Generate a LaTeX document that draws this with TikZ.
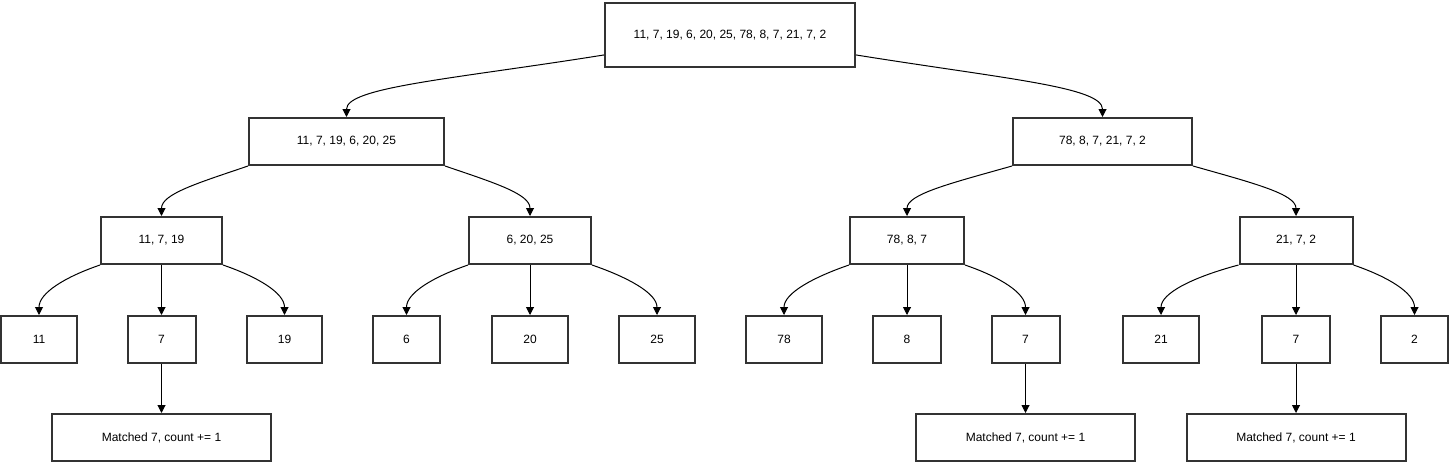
\documentclass[tikz,border=0pt]{standalone}
\usepackage{fontspec}
\setmainfont{Liberation Sans}
\usetikzlibrary{arrows.meta}
\definecolor{boxgray}{HTML}{333333}

\begin{document}
\begin{tikzpicture}[x=1pt,y=-1pt,
  box/.style={draw=boxgray,line width=2pt,fill=white,inner sep=0pt,minimum height=47pt,font=\fontsize{12}{14}\selectfont},
  arr/.style={-{Triangle[length=8pt,width=8pt]},line width=1pt,black}]
  \useasboundingbox (0,0) rectangle (1450,463);
  % splits
  \node[box,minimum width=250pt,minimum height=64pt] (root) at (730,35) {11, 7, 19, 6, 20, 25, 78, 8, 7, 21, 7, 2};
  \node[box,minimum width=195pt] (l) at (346.5,141.5) {11, 7, 19, 6, 20, 25};
  \node[box,minimum width=179pt] (r) at (1102.5,141.5) {78, 8, 7, 21, 7, 2};
  \node[box,minimum width=121pt] (ll) at (161.5,240.5) {11, 7, 19};
  \node[box,minimum width=122pt] (lr) at (530,240.5) {6, 20, 25};
  \node[box,minimum width=114pt] (rl) at (907,240.5) {78, 8, 7};
  \node[box,minimum width=113pt] (rr) at (1296,240.5) {21, 7, 2};
  % leaves
  \node[box,minimum width=76pt] (n11) at (39,339.5) {11};
  \node[box,minimum width=68pt] (n7a) at (161.5,339.5) {7};
  \node[box,minimum width=75pt] (n19) at (284.5,339.5) {19};
  \node[box,minimum width=67pt] (n6) at (406.5,339.5) {6};
  \node[box,minimum width=76pt] (n20) at (530,339.5) {20};
  \node[box,minimum width=76pt] (n25) at (657,339.5) {25};
  \node[box,minimum width=76pt] (n78) at (784,339.5) {78};
  \node[box,minimum width=68pt] (n8) at (907,339.5) {8};
  \node[box,minimum width=68pt] (n7b) at (1025.5,339.5) {7};
  \node[box,minimum width=76pt] (n21) at (1161,339.5) {21};
  \node[box,minimum width=68pt] (n7c) at (1296,339.5) {7};
  \node[box,minimum width=67pt] (n2) at (1414.5,339.5) {2};
  % matches
  \node[box,minimum width=219pt] (m1) at (161.5,437.5) {Matched 7, count += 1};
  \node[box,minimum width=219pt] (m2) at (1025.5,437.5) {Matched 7, count += 1};
  \node[box,minimum width=219pt] (m3) at (1296,437.5) {Matched 7, count += 1};

  \draw[arr] (root.189) .. controls +(-150,24) and +(0,-30) .. (l.north);
  \draw[arr] (root.-9) .. controls +(150,24) and +(0,-30) .. (r.north);
  \draw[arr] (l.south west) .. controls +(-50,17) and +(0,-22) .. (ll.north);
  \draw[arr] (l.south east) .. controls +(50,17) and +(0,-22) .. (lr.north);
  \draw[arr] (r.south west) .. controls +(-60,17) and +(0,-22) .. (rl.north);
  \draw[arr] (r.south east) .. controls +(60,17) and +(0,-22) .. (rr.north);

  \draw[arr] (ll.south west) .. controls +(-35,12) and +(0,-22) .. (n11.north);
  \draw[arr] (ll) -- (n7a);
  \draw[arr] (ll.south east) .. controls +(35,12) and +(0,-22) .. (n19.north);
  \draw[arr] (lr.south west) .. controls +(-35,12) and +(0,-22) .. (n6.north);
  \draw[arr] (lr) -- (n20);
  \draw[arr] (lr.south east) .. controls +(35,12) and +(0,-22) .. (n25.north);
  \draw[arr] (rl.south west) .. controls +(-35,12) and +(0,-22) .. (n78.north);
  \draw[arr] (rl) -- (n8);
  \draw[arr] (rl.south east) .. controls +(35,12) and +(0,-22) .. (n7b.north);
  \draw[arr] (rr.south west) .. controls +(-45,12) and +(0,-22) .. (n21.north);
  \draw[arr] (rr) -- (n7c);
  \draw[arr] (rr.south east) .. controls +(35,12) and +(0,-22) .. (n2.north);

  \draw[arr] (n7a) -- (m1);
  \draw[arr] (n7b) -- (m2);
  \draw[arr] (n7c) -- (m3);
\end{tikzpicture}
\end{document}
